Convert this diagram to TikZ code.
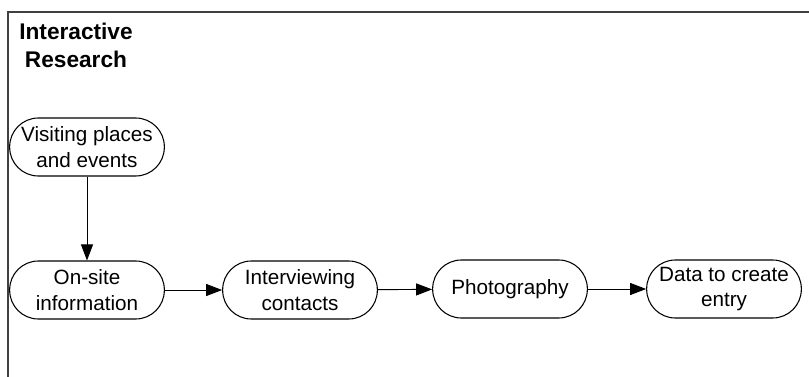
\documentclass[tikz,border=0pt]{standalone}
\usepackage{fontspec}
\setmainfont{Liberation Sans}
\usetikzlibrary{arrows.meta}
\begin{document}
\begin{tikzpicture}[x=0.75pt,y=-0.75pt,
  stage/.style={draw,line width=0.8pt,rounded corners=21.5pt,minimum width=116pt,
    minimum height=43.5pt,inner sep=0pt,align=center,font=\fontsize{15.5}{19}\selectfont},
  flow/.style={line width=0.7pt,-{Triangle[length=12pt,width=9pt]}},
  frame/.style={line width=0.9pt,black!75}]
  \useasboundingbox (0,0) rectangle (809,377);
  % open frame: top and left edges only
  \coordinate (ftl) at (8,12);
  \coordinate (ftr) at (809,12);
  \coordinate (fbl) at (8,377);
  \draw[frame] (ftr) -- (ftl) -- (fbl);
  \node[font=\bfseries\fontsize{17}{21}\selectfont,align=center] (title) at (76,45) {Interactive\\Research};
  \node[stage] (visit) at (87,147) {Visiting places\\and events};
  \node[stage] (onsite) at (87,290) {On-site\\information};
  \node[stage] (interv) at (300,290) {Interviewing\\contacts};
  \node[stage] (photo) at (510,289) {Photography};
  \node[stage] (data) at (724,289) {Data to create\\entry};
  \draw[flow] (visit) -- (onsite);
  \draw[flow] (onsite) -- (interv);
  \draw[flow] (interv) -- (photo);
  \draw[flow] (photo) -- (data);
\end{tikzpicture}
\end{document}
